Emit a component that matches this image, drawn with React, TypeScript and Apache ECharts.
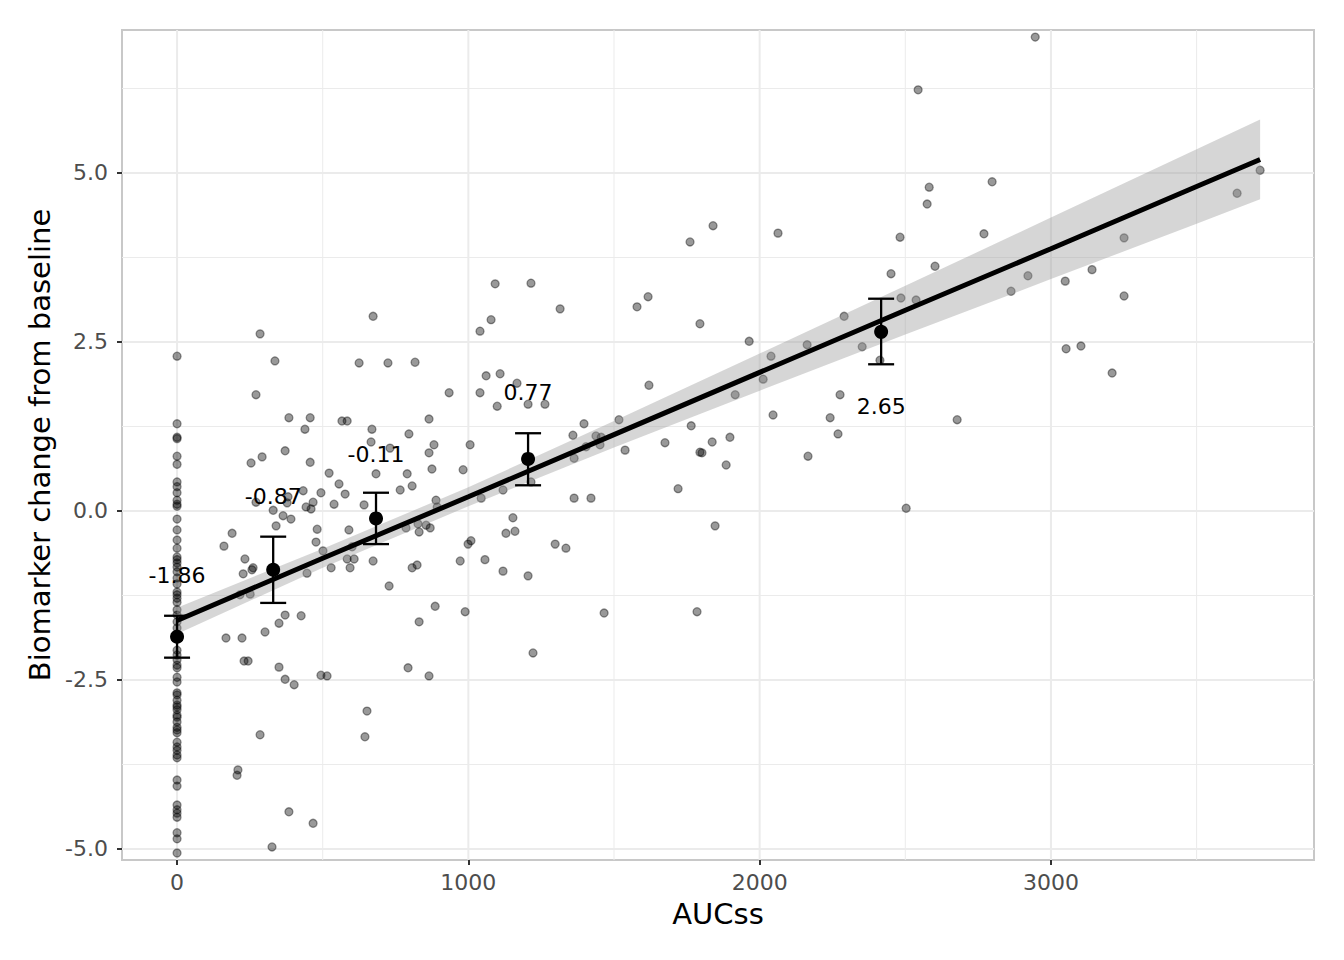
import React, { useEffect, useRef } from "react";
import * as echarts from "echarts";

// AUCss == 0 group (placebo), biomarker change values
const zeroDoseChange = [
  2.29, 1.29, 1.09, 1.07, 0.81, 0.69, 0.43, 0.36, 0.27, 0.16, 0.1, 0.07, -0.12, -0.28, -0.43,
  -0.55, -0.68, -0.72, -0.77, -0.83, -0.9, -0.99, -1.08, -1.2, -1.24, -1.29, -1.35, -1.46, -1.54,
  -1.64, -1.73, -1.82, -2.06, -2.13, -2.2, -2.28, -2.32, -2.46, -2.53, -2.69, -2.72, -2.8, -2.87,
  -2.9, -2.94, -3.02, -3.05, -3.12, -3.2, -3.24, -3.28, -3.42, -3.49, -3.54, -3.61, -3.65, -3.98,
  -4.07, -4.35, -4.42, -4.47, -4.53, -4.76, -4.85, -5.06,
];

// Treated subjects
const aucss = [
  285, 336, 271, 384, 457, 439, 566, 584, 673, 625, 724, 817, 669, 796, 666, 731, 254, 292, 371, 457,
  522, 556, 577, 683, 790, 807, 766, 433, 494, 381, 378, 271, 467, 539, 642, 443, 460, 330, 364, 391,
  340, 481, 590, 786, 827, 831, 189, 161, 477, 501, 601, 584, 608, 673, 233, 261, 227, 446, 529, 594,
  807, 824, 257, 728, 216, 251, 371, 426, 350, 302, 168, 223, 831, 230, 244, 350, 793, 371, 402, 494,
  515, 652, 645, 285, 209, 206, 384, 467, 326,
  1092, 1215, 1315, 1078, 1040, 1579, 1617, 1795, 1061, 1109, 1167, 934, 1040, 1099, 1205, 1263, 1620,
  865, 1397, 1517, 1359, 1438, 1456, 1404, 1452, 1765, 1675, 882, 865, 1006, 1538, 875, 982, 1363, 1795,
  1215, 1119, 1044, 889, 893, 1363, 1421, 1720, 1153, 1160, 1129, 855, 869, 999, 1009, 1298, 1335, 972,
  1057, 1119, 1205, 886, 989, 1466, 1785, 1222, 865,
  1840, 2063, 1761, 2575, 2482, 2770, 2451, 2602, 2863, 2485, 2537, 2290, 1964, 2163, 2352, 2413, 2039,
  2012, 1916, 2276, 2046, 2242, 2269, 2678, 1837, 1898, 1802, 1885, 2166, 2503, 1847,
  3718, 3639, 3251, 3141, 2921, 3049, 3251, 3052, 3103, 3210, 2946, 2544, 2582, 2798,
];
const change = [
  2.62, 2.22, 1.72, 1.38, 1.38, 1.21, 1.33, 1.33, 2.88, 2.19, 2.19, 2.2, 1.21, 1.14, 1.02, 0.93, 0.71, 0.8, 0.89, 0.72,
  0.56, 0.4, 0.25, 0.55, 0.55, 0.37, 0.31, 0.3, 0.27, 0.21, 0.12, 0.13, 0.13, 0.1, 0.09, 0.06, 0.03, 0.01, -0.07, -0.12,
  -0.22, -0.27, -0.28, -0.25, -0.19, -0.31, -0.33, -0.52, -0.46, -0.59, -0.53, -0.71, -0.71, -0.74, -0.71, -0.84, -0.93, -0.92, -0.84, -0.84,
  -0.84, -0.8, -0.87, -1.11, -1.24, -1.23, -1.54, -1.55, -1.66, -1.79, -1.88, -1.88, -1.64, -2.22, -2.22, -2.31, -2.32, -2.49, -2.57, -2.43,
  -2.44, -2.96, -3.34, -3.31, -3.83, -3.91, -4.45, -4.62, -4.97,
  3.36, 3.37, 2.99, 2.83, 2.66, 3.02, 3.17, 2.77, 2.0, 2.03, 1.89, 1.75, 1.75, 1.55, 1.58, 1.58, 1.86,
  1.36, 1.29, 1.35, 1.12, 1.11, 1.09, 0.95, 0.98, 1.26, 1.01, 0.98, 0.86, 0.98, 0.9, 0.62, 0.61, 0.78, 0.87,
  0.43, 0.31, 0.19, 0.16, 0.06, 0.19, 0.19, 0.33, -0.1, -0.3, -0.33, -0.21, -0.25, -0.49, -0.44, -0.49, -0.55, -0.74,
  -0.72, -0.89, -0.96, -1.41, -1.49, -1.51, -1.49, -2.1, -2.44,
  4.22, 4.11, 3.98, 4.54, 4.05, 4.1, 3.51, 3.62, 3.25, 3.15, 3.12, 2.88, 2.51, 2.46, 2.43, 2.23, 2.29,
  1.95, 1.72, 1.72, 1.42, 1.38, 1.14, 1.35, 1.02, 1.09, 0.86, 0.68, 0.81, 0.04, -0.22,
  5.04, 4.7, 4.04, 3.57, 3.48, 3.4, 3.18, 2.4, 2.44, 2.04, 7.01, 6.23, 4.79, 4.87,
];

// Exposure-bin summaries (mean and 95% CI)
const meanAuc = [0, 330, 683, 1205, 2417];
const meanChange = [-1.86, -0.87, -0.11, 0.77, 2.65];
const meanLower = [-2.17, -1.36, -0.49, 0.38, 2.17];
const meanUpper = [-1.55, -0.38, 0.27, 1.15, 3.14];
const meanLabelY = [-0.95, 0.21, 0.84, 1.76, 1.55];

// Linear fit with confidence band
const fitAuc = [0, 500, 1000, 1500, 2000, 2500, 3000, 3500, 3718];
const fitChange = [-1.62, -0.7, 0.21, 1.13, 2.05, 2.97, 3.88, 4.8, 5.2];
const fitLower = [-1.82, -0.84, 0.07, 0.94, 1.78, 2.61, 3.43, 4.25, 4.61];
const fitUpper = [-1.43, -0.56, 0.35, 1.33, 2.33, 3.33, 4.34, 5.35, 5.79];

// Axes
const xMajorTicks = [0, 1000, 2000, 3000];
const xMinorTicks = [500, 1500, 2500, 3500];
const yMajorTicks = [-5, -2.5, 0, 2.5, 5];
const yMinorTicks = [-3.75, -1.25, 1.25, 3.75, 6.25];
const xRange = [-189, 3903];
const yRange = [-5.163, 7.115];

const FONT = "DejaVu Sans";

export default function App() {
  const ref = useRef<HTMLDivElement>(null);

  useEffect(() => {
    if (!ref.current) return;
    const chart = echarts.init(ref.current, null, { renderer: "svg" });

    const points: number[][] = zeroDoseChange
      .map((y) => [0, y])
      .concat(aucss.map((x, i) => [x, change[i]]));

    const vGrid = xMajorTicks.map((v) => [v, 1]).concat(xMinorTicks.map((v) => [v, 0]));
    const hGrid = yMajorTicks.map((v) => [v, 1]).concat(yMinorTicks.map((v) => [v, 0]));

    const option: any = {
      animation: false,
      backgroundColor: "#ffffff",
      grid: {
        left: 122,
        top: 30,
        right: 30,
        bottom: 100,
        show: true,
        borderColor: "#c8c8c8",
        borderWidth: 2,
        backgroundColor: "transparent",
      },
      xAxis: {
        type: "value",
        min: xRange[0],
        max: xRange[1],
        axisLine: { show: false, onZero: false },
        axisTick: {
          show: true,
          customValues: xMajorTicks,
          length: 5,
          lineStyle: { color: "#333333", width: 2 },
        },
        axisLabel: {
          customValues: xMajorTicks,
          margin: 11,
          fontSize: 22,
          color: "#4d4d4d",
          fontFamily: FONT,
          formatter: (v: number) => String(v),
        },
        splitLine: { show: false },
        name: "AUCss",
        nameLocation: "middle",
        nameGap: 39,
        nameTextStyle: { fontSize: 29, color: "#000000", fontFamily: FONT },
      },
      yAxis: {
        type: "value",
        min: yRange[0],
        max: yRange[1],
        axisLine: { show: false, onZero: false },
        axisTick: {
          show: true,
          customValues: yMajorTicks,
          length: 5,
          lineStyle: { color: "#333333", width: 2 },
        },
        axisLabel: {
          customValues: yMajorTicks,
          margin: 14,
          fontSize: 22,
          color: "#4d4d4d",
          fontFamily: FONT,
          formatter: (v: number) => v.toFixed(1),
        },
        splitLine: { show: false },
        name: "Biomarker change from baseline",
        nameLocation: "middle",
        nameGap: 63,
        nameTextStyle: { fontSize: 29, color: "#000000", fontFamily: FONT },
      },
      series: [
        {
          type: "custom",
          silent: true,
          z: 0,
          data: vGrid,
          renderItem: (params: any, api: any) => {
            const v = api.value(0);
            const major = api.value(1) === 1;
            const p1 = api.coord([v, yRange[0]]);
            const p2 = api.coord([v, yRange[1]]);
            return {
              type: "line",
              shape: { x1: p1[0], y1: p1[1], x2: p2[0], y2: p2[1] },
              style: { stroke: "#ebebeb", lineWidth: major ? 2 : 1 },
            };
          },
        },
        {
          type: "custom",
          silent: true,
          z: 0,
          data: hGrid,
          renderItem: (params: any, api: any) => {
            const v = api.value(0);
            const major = api.value(1) === 1;
            const p1 = api.coord([xRange[0], v]);
            const p2 = api.coord([xRange[1], v]);
            return {
              type: "line",
              shape: { x1: p1[0], y1: p1[1], x2: p2[0], y2: p2[1] },
              style: { stroke: "#ebebeb", lineWidth: major ? 2 : 1 },
            };
          },
        },
        {
          type: "scatter",
          z: 2,
          data: points,
          symbolSize: 8,
          itemStyle: {
            color: "rgba(0,0,0,0.4)",
            borderColor: "rgba(0,0,0,0.4)",
            borderWidth: 1.3,
            opacity: 1,
          },
          silent: true,
        },
        {
          type: "custom",
          silent: true,
          z: 3,
          data: [[0, 0]],
          renderItem: (params: any, api: any) => {
            const upper = fitAuc.map((x, i) => api.coord([x, fitUpper[i]]));
            const lower = fitAuc.map((x, i) => api.coord([x, fitLower[i]])).reverse();
            return {
              type: "polygon",
              shape: { points: upper.concat(lower) },
              style: { fill: "rgba(153,153,153,0.4)" },
            };
          },
        },
        {
          type: "line",
          z: 4,
          data: fitAuc.map((x, i) => [x, fitChange[i]]),
          showSymbol: false,
          symbol: "none",
          lineStyle: { color: "#000000", width: 5 },
          silent: true,
        },
        {
          type: "custom",
          silent: true,
          z: 5,
          data: meanAuc.map((x, i) => [x, meanLower[i], meanUpper[i]]),
          renderItem: (params: any, api: any) => {
            const x = api.value(0);
            const lo = api.coord([x, api.value(1)]);
            const hi = api.coord([x, api.value(2)]);
            const w = 13;
            const st = { stroke: "#000000", lineWidth: 2.3 };
            return {
              type: "group",
              children: [
                { type: "line", shape: { x1: lo[0], y1: lo[1], x2: hi[0], y2: hi[1] }, style: st },
                { type: "line", shape: { x1: lo[0] - w, y1: lo[1], x2: lo[0] + w, y2: lo[1] }, style: st },
                { type: "line", shape: { x1: hi[0] - w, y1: hi[1], x2: hi[0] + w, y2: hi[1] }, style: st },
              ],
            };
          },
        },
        {
          type: "scatter",
          z: 6,
          data: meanAuc.map((x, i) => [x, meanChange[i]]),
          symbolSize: 14,
          itemStyle: { color: "#000000", opacity: 1 },
          silent: true,
        },
        {
          type: "scatter",
          z: 7,
          data: meanAuc.map((x, i) => [x, meanLabelY[i], meanChange[i]]),
          symbolSize: 1,
          itemStyle: { color: "rgba(0,0,0,0)", opacity: 1 },
          silent: true,
          label: {
            show: true,
            position: "inside",
            formatter: (p: any) => Number(p.value[2]).toFixed(2),
            fontSize: 22,
            color: "#000000",
            opacity: 1,
            fontFamily: FONT,
          },
        },
      ],
    };

    chart.setOption(option);
    return () => chart.dispose();
  }, []);

  return (
    <div
      ref={ref}
      style={{ position: "fixed", left: 0, top: 0, width: 1344, height: 960, background: "#ffffff" }}
    />
  );
}
